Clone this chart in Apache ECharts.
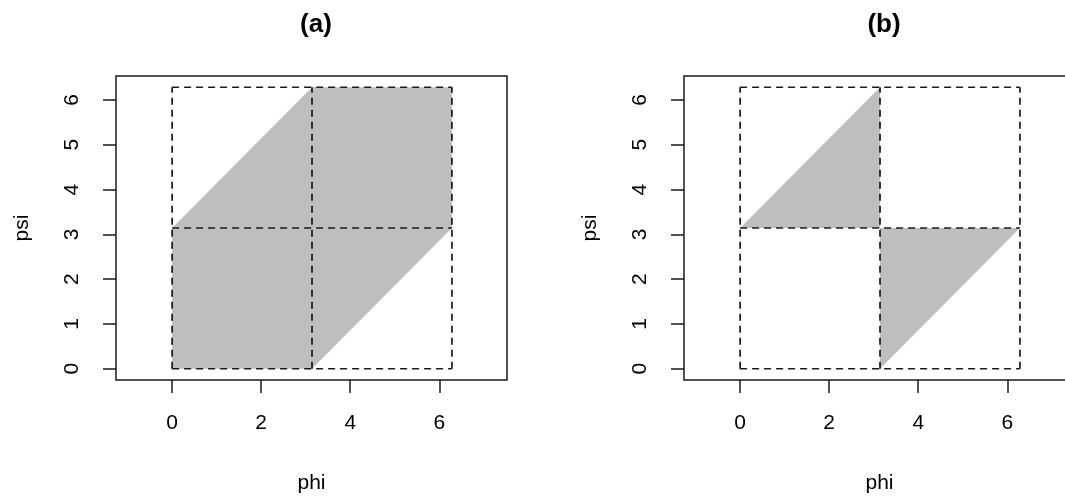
<!DOCTYPE html>
<html>
<head>
<meta charset="utf-8">
<script src="https://cdn.jsdelivr.net/npm/echarts@6/dist/echarts.min.js"></script>
<style>
  html, body { margin: 0; padding: 0; background: #fff; }
  #chart { width: 1065px; height: 498px; }
</style>
</head>
<body>
<div id="chart"></div>
<script>
// Tick labels for both axes
const phiTicks = [0, 2, 4, 6];
const psiTicks = [0, 1, 2, 3, 4, 5, 6];

// Dashed guide lines at 0, pi and 2*pi
const guideValues = [0, 3.1416, 6.2832];
const guideMax = 6.2832;

// Panel (a): shaded band between psi = phi - pi and psi = phi + pi
const bandPhi = [0, 3.1416, 6.2832, 6.2832, 3.1416, 0];
const bandPsi = [0, 0, 3.1416, 6.2832, 6.2832, 3.1416];

// Panel (b): two shaded triangles
const upperPhi = [0, 3.1416, 3.1416];
const upperPsi = [3.1416, 6.2832, 3.1416];
const lowerPhi = [3.1416, 3.1416, 6.2832];
const lowerPsi = [0, 3.1416, 3.1416];

const FONT = "'Liberation Sans', Arial, sans-serif";
const SHADE = '#bebebe';
const INK = '#1a1a1a';

const pairs = (xs, ys) => xs.map((x, i) => [x, ys[i]]);

function polygonSeries(idx, xs, ys) {
  const pts = pairs(xs, ys);
  return {
    type: 'custom',
    xAxisIndex: idx, yAxisIndex: idx,
    silent: true,
    z: 1,
    data: pts,
    renderItem: function (params, api) {
      if (params.dataIndex !== 0) return;
      return {
        type: 'polygon',
        shape: { points: pts.map(p => api.coord(p)) },
        style: { fill: SHADE, stroke: null }
      };
    }
  };
}

function guideSeries(idx) {
  return {
    type: 'custom',
    xAxisIndex: idx, yAxisIndex: idx,
    silent: true,
    z: 3,
    data: guideValues.map(v => [v, v]),
    renderItem: function (params, api) {
      const v = guideValues[params.dataIndex];
      const style = { stroke: INK, lineWidth: 1.7, lineDash: [7, 5], fill: null };
      const a = api.coord([v, 0]), b = api.coord([v, guideMax]);
      const c = api.coord([0, v]), d = api.coord([guideMax, v]);
      return {
        type: 'group',
        children: [
          { type: 'line', shape: { x1: a[0], y1: a[1], x2: b[0], y2: b[1] }, style: style },
          { type: 'line', shape: { x1: c[0], y1: c[1], x2: d[0], y2: d[1] }, style: style }
        ]
      };
    }
  };
}

function xAxis(idx) {
  return {
    type: 'value', gridIndex: idx,
    min: -1.26, max: 7.52,
    name: 'phi', nameLocation: 'middle', nameGap: 93,
    nameTextStyle: { fontFamily: FONT, fontSize: 21, color: '#000' },
    axisLine: { show: false, onZero: false },
    splitLine: { show: false },
    axisTick: { show: true, length: 13, customValues: phiTicks,
                lineStyle: { color: INK, width: 1.5 } },
    axisLabel: { customValues: phiTicks, margin: 33,
                 fontFamily: FONT, fontSize: 21, color: '#000' }
  };
}

function yAxis(idx) {
  return {
    type: 'value', gridIndex: idx,
    min: -0.2513, max: 6.5345,
    name: 'psi', nameLocation: 'middle', nameGap: 83,
    nameTextStyle: { fontFamily: FONT, fontSize: 21, color: '#000' },
    axisLine: { show: false, onZero: false },
    splitLine: { show: false },
    axisTick: { show: true, length: 13, customValues: psiTicks,
                lineStyle: { color: INK, width: 1.5 } },
    axisLabel: { customValues: psiTicks, margin: 33, rotate: 90,
                 fontFamily: FONT, fontSize: 21, color: '#000' }
  };
}

const chart = echarts.init(document.getElementById('chart'), null, { renderer: 'canvas' });
chart.setOption({
  backgroundColor: '#fff',
  animation: false,
  title: [
    { text: '(a)', left: 311, top: 7, textAlign: 'center',
      textStyle: { fontFamily: FONT, fontSize: 26, fontWeight: 'bold', color: '#000' } },
    { text: '(b)', left: 879, top: 7, textAlign: 'center',
      textStyle: { fontFamily: FONT, fontSize: 26, fontWeight: 'bold', color: '#000' } }
  ],
  grid: [
    { left: 116, top: 76, width: 391, height: 304, show: true, outerBoundsMode: 'none',
      borderColor: INK, borderWidth: 1.5, backgroundColor: 'transparent', containLabel: false },
    { left: 684, top: 76, width: 391, height: 304, show: true, outerBoundsMode: 'none',
      borderColor: INK, borderWidth: 1.5, backgroundColor: 'transparent', containLabel: false }
  ],
  xAxis: [xAxis(0), xAxis(1)],
  yAxis: [yAxis(0), yAxis(1)],
  series: [
    polygonSeries(0, bandPhi, bandPsi),
    guideSeries(0),
    polygonSeries(1, upperPhi, upperPsi),
    polygonSeries(1, lowerPhi, lowerPsi),
    guideSeries(1)
  ]
});
</script>
</body>
</html>
